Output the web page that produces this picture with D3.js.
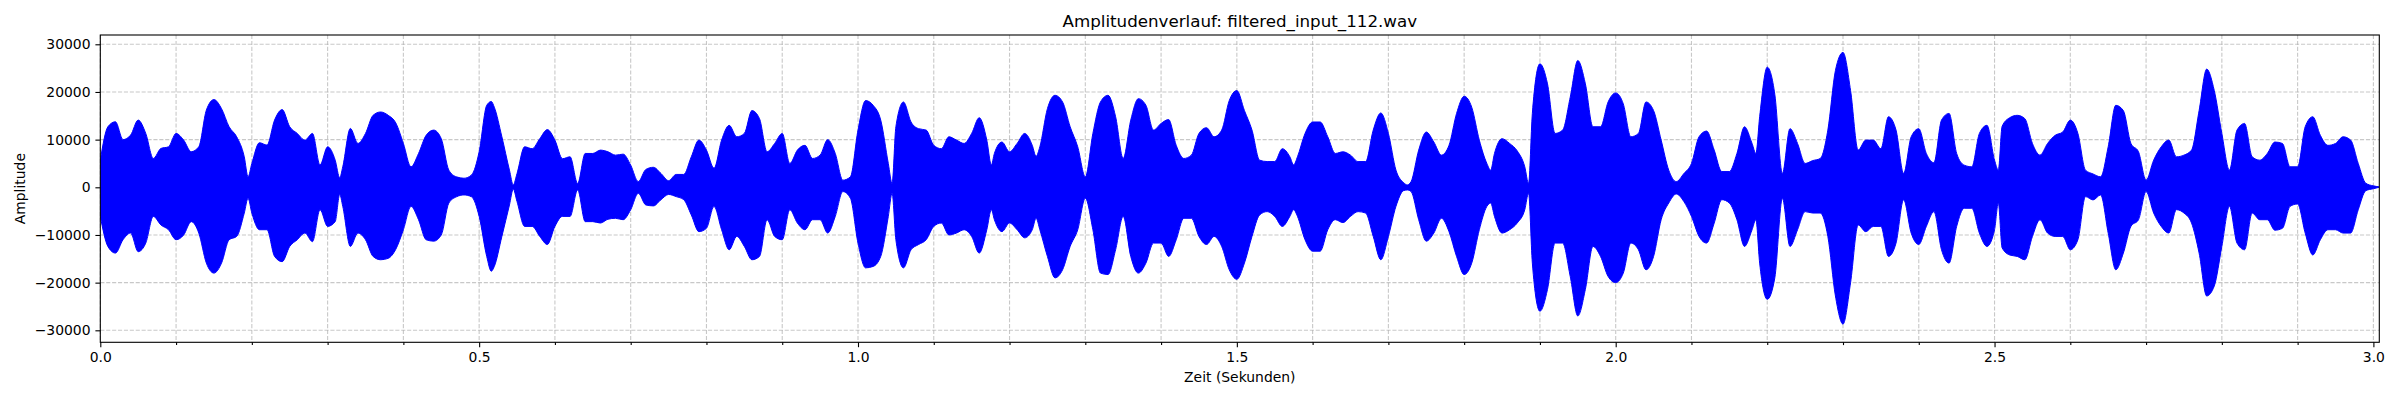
<!DOCTYPE html>
<html>
<head>
<meta charset="utf-8">
<script src="https://cdn.jsdelivr.net/npm/d3@7"></script>
<style>
  body { margin: 0; background: #fff; }
  text { font-family: "DejaVu Sans", sans-serif; fill: #000; }
</style>
</head>
<body>
<div id="chart"></div>
<script>
// Hüllkurve des Signals (Zeit in s, obere / untere Amplitude)
var timeSec = [
  0.000,0.010,0.020,0.030,0.040,0.050,0.060,0.070,0.080,0.090,
  0.100,0.110,0.120,0.130,0.140,0.150,0.160,0.170,0.180,0.190,0.195,
  0.200,0.210,0.220,0.230,0.240,0.250,0.260,0.270,0.280,0.290,
  0.300,0.310,0.316,0.320,0.330,0.340,0.350,0.360,0.370,0.380,0.390,
  0.400,0.410,0.420,0.430,0.440,0.450,0.460,0.470,0.480,0.490,
  0.500,0.510,0.516,0.520,0.530,0.540,0.545,0.550,0.560,0.570,0.580,0.590,
  0.600,0.610,0.620,0.630,0.640,0.650,0.660,0.670,0.680,0.690,
  0.700,0.710,0.720,0.730,0.740,0.750,0.760,0.770,0.780,0.790,
  0.800,0.810,0.820,0.830,0.840,0.850,0.860,0.870,0.880,0.890,
  0.900,0.910,0.920,0.930,0.940,0.950,0.960,0.970,0.980,0.990,
  1.000,1.010,1.020,1.030,1.040,1.045,1.050,1.060,1.070,1.080,1.090,
  1.100,1.110,1.120,1.130,1.140,1.150,1.160,1.170,1.176,1.180,1.190,
  1.200,1.210,1.220,1.230,1.235,1.240,1.250,1.260,1.270,1.280,1.290,
  1.300,1.310,1.320,1.330,1.340,1.350,1.360,1.370,1.380,1.390,
  1.400,1.410,1.420,1.430,1.440,1.450,1.460,1.470,1.480,1.490,
  1.500,1.510,1.520,1.530,1.540,1.550,1.560,1.570,1.575,1.580,1.590,
  1.600,1.610,1.620,1.630,1.640,1.650,1.660,1.670,1.680,1.690,
  1.700,1.710,1.720,1.725,1.730,1.740,1.750,1.760,1.770,1.780,1.790,
  1.800,1.810,1.820,1.830,1.835,1.840,1.850,1.860,1.870,1.880,1.885,1.890,
  1.900,1.910,1.920,1.930,1.940,1.950,1.960,1.970,1.980,1.990,
  2.000,2.010,2.020,2.030,2.040,2.050,2.060,2.070,2.080,2.090,
  2.100,2.110,2.120,2.130,2.140,2.150,2.160,2.170,2.180,2.185,2.190,
  2.200,2.210,2.220,2.230,2.240,2.250,2.260,2.270,2.280,2.290,
  2.300,2.310,2.320,2.330,2.340,2.350,2.360,2.370,2.380,2.390,
  2.400,2.410,2.420,2.430,2.440,2.450,2.460,2.470,2.480,2.490,
  2.500,2.505,2.510,2.520,2.530,2.540,2.550,2.560,2.570,2.580,2.590,
  2.600,2.610,2.620,2.630,2.640,2.650,2.660,2.670,2.680,2.690,
  2.700,2.710,2.720,2.730,2.740,2.750,2.760,2.770,2.780,2.790,
  2.800,2.810,2.820,2.830,2.840,2.850,2.860,2.870,2.880,2.890,
  2.900,2.910,2.920,2.930,2.940,2.950,2.960,2.970,2.980,2.990,
  3.000,3.0075
];
var upperAmp = [
  5700,12700,13750,10000,10950,14100,11300,6050,8150,8500,
  11300,9900,7470,8500,16200,18400,16500,12700,10600,6400,2200,
  5000,9350,8860,14100,16300,12700,11300,9900,11300,4680,
  8500,5700,2000,4300,12350,9200,11300,15100,15800,15100,13500,
  9200,4300,7100,10900,12000,10200,3600,2200,1900,2600,
  7450,17200,18000,16800,10600,3600,500,2900,8500,8100,10200,12100,
  9900,6000,6400,800,7100,7100,7800,7450,6750,6960,
  4650,1200,3750,4200,2900,1400,2700,2700,6400,9900,
  7800,4000,9900,13000,10600,11300,16100,14400,7450,9200,
  11300,5000,7800,8800,6050,6750,10000,7100,1500,2200,
  12000,18200,17200,14100,5000,800,12700,17900,13700,12300,12000,
  8800,8100,10600,9900,9200,11300,14600,9900,4700,7100,9500,
  7450,9200,11300,8800,6500,8500,16500,19300,17900,12700,8500,
  2200,11300,17900,19300,14800,6050,14100,18600,17200,12000,
  13400,14200,8800,6050,6750,11300,12500,10600,12000,18200,
  20300,16100,12000,5700,5400,5400,8100,6400,4700,6400,11300,
  13700,13700,10600,7100,7450,6750,5400,5400,12000,15600,
  11300,3600,1000,500,1200,7800,11600,9500,6750,8800,15500,
  19100,16800,9900,5000,3600,7100,10200,9200,7650,4300,800,15500,
  25900,21700,11300,12000,18900,26600,21700,12700,12700,17900,
  19800,17500,10600,11300,17900,16100,9900,3600,1200,2900,
  5000,10600,11800,7800,3300,3300,7100,12700,9200,7100,14800,
  25200,19500,2900,12300,9200,5000,5600,6050,12000,24500,
  28300,20300,7800,9900,9900,8100,14800,12000,2900,10600,
  12300,7100,5150,14100,15500,7100,4650,4300,11300,13000,
  5700,3600,12800,14600,15100,14400,9200,6750,9200,10900,11600,
  14100,11300,3600,2800,2200,8500,17200,16100,9200,7450,
  1500,5700,8500,9900,6400,6750,7800,16100,24800,20300,
  11300,3600,12000,13400,6400,5700,7100,9500,9200,4300,
  4300,12700,14800,10900,8800,9200,10600,9900,5000,850,
  300,100
];
var lowerAmp = [
  -6100,-12400,-13800,-11000,-9600,-13500,-11700,-6100,-7900,-8900,
  -11000,-10000,-7200,-9600,-15900,-18000,-15900,-11000,-10300,-5400,-2300,
  -5400,-8900,-8900,-14500,-15600,-12400,-11000,-9600,-11400,-4700,
  -8200,-7200,-1500,-4000,-12400,-9600,-11000,-14500,-15200,-14900,-13000,
  -8900,-4000,-6800,-11000,-11300,-10000,-3300,-2000,-1600,-2000,
  -6100,-14500,-17600,-16600,-10300,-3700,-400,-3000,-8200,-8200,-10300,-12000,
  -8200,-6100,-6100,-550,-7200,-7200,-7500,-6700,-6500,-6800,
  -4700,-1250,-3700,-3900,-2600,-1500,-1950,-2600,-5800,-9300,
  -8600,-4000,-8900,-13100,-10300,-12400,-15200,-14500,-6800,-10300,
  -11000,-4700,-7500,-8900,-6800,-6800,-9600,-6100,-900,-2300,
  -11700,-16900,-16600,-14500,-6100,-1250,-11000,-16900,-13100,-12000,-11000,
  -8200,-7500,-10000,-9600,-8900,-10300,-13800,-8900,-4700,-6800,-9300,
  -7500,-8900,-10600,-8900,-6500,-8900,-14500,-19000,-17300,-12400,-8900,
  -2300,-8900,-18000,-18300,-13100,-6100,-14500,-18000,-15900,-11700,
  -11700,-14500,-11000,-6500,-6500,-10300,-12000,-10300,-12400,-17300,
  -19300,-15900,-10300,-5800,-5100,-6100,-8200,-6100,-4700,-6100,-11000,
  -13400,-13400,-8900,-6800,-7400,-6100,-5100,-5400,-10300,-15200,
  -10300,-4000,-700,-550,-900,-6800,-11300,-9600,-6500,-9300,-14500,
  -18300,-15900,-8900,-4000,-3300,-6100,-9600,-8900,-7500,-4700,-1250,-15900,
  -26000,-21400,-11700,-11700,-18700,-27000,-21400,-12400,-14500,-18700,
  -20000,-18000,-11700,-13100,-17300,-14500,-6800,-3300,-1400,-3000,
  -6100,-10300,-11700,-7500,-2600,-3300,-6800,-12400,-8900,-6800,-15900,
  -23500,-19000,-2300,-12400,-8900,-5100,-5400,-5400,-10300,-22800,
  -28700,-20000,-7900,-9300,-8200,-8200,-14500,-11700,-2600,-9600,
  -12000,-8200,-5100,-13100,-15900,-8200,-4400,-4400,-9600,-12400,
  -8900,-3300,-12700,-14200,-14500,-15200,-10300,-6800,-9600,-10300,-10300,
  -13100,-11000,-1950,-2650,-1600,-9600,-17300,-13800,-8200,-6800,
  -900,-5400,-8200,-9600,-4700,-5400,-7500,-13800,-22800,-20700,
  -12400,-4000,-11700,-13100,-5400,-6800,-6800,-9000,-8600,-4000,
  -3500,-9600,-14200,-11000,-8900,-8900,-9600,-9600,-4700,-700,
  -300,0
];

// Achsen-Ticks
var xMajorTicks = [0.0, 0.5, 1.0, 1.5, 2.0, 2.5, 3.0];
var xMinorTicks = [0.1,0.2,0.3,0.4,0.6,0.7,0.8,0.9,1.1,1.2,1.3,1.4,1.6,1.7,1.8,1.9,
                   2.1,2.2,2.3,2.4,2.6,2.7,2.8,2.9];
var yTicks = [-30000, -20000, -10000, 0, 10000, 20000, 30000];
var xLimits = [0, 3.0078];
var yLimits = [-32515, 31950];

var dataset = timeSec.map(function(t, i){
    return {t: t, hi: upperAmp[i], lo: lowerAmp[i]};
});

var svgWidth = 2400, svgHeight = 400;
var plotLeft = 100.3, plotRight = 2379.3, plotTop = 35, plotBottom = 342.3;

var svg = d3.select('#chart')
    .append('svg')
    .attr('width', svgWidth)
    .attr('height', svgHeight)

var xScale = d3.scaleLinear().domain(xLimits).range([plotLeft, plotRight])
var yScale = d3.scaleLinear().domain(yLimits).range([plotBottom, plotTop])

// Gitter (gestrichelt)
var grid = svg.append('g')
    .attr('stroke', '#b0b0b0')
    .attr('stroke-opacity', 0.7)
    .attr('stroke-width', 1.1)
    .attr('stroke-dasharray', '4.1,1.8')

grid.selectAll('line.vx')
    .data(xMajorTicks.concat(xMinorTicks))
    .enter().append('line')
    .attr('class', 'vx')
    .attr('x1', function(d){ return xScale(d); })
    .attr('x2', function(d){ return xScale(d); })
    .attr('y1', plotTop)
    .attr('y2', plotBottom)

grid.selectAll('line.hy')
    .data(yTicks)
    .enter().append('line')
    .attr('class', 'hy')
    .attr('x1', plotLeft)
    .attr('x2', plotRight)
    .attr('y1', function(d){ return yScale(d); })
    .attr('y2', function(d){ return yScale(d); })

// Signal
svg.append('clipPath').attr('id', 'clip')
    .append('rect')
    .attr('x', plotLeft).attr('y', plotTop)
    .attr('width', plotRight - plotLeft).attr('height', plotBottom - plotTop)

var area = d3.area()
    .curve(d3.curveMonotoneX)
    .x(function(d){ return xScale(d.t); })
    .y0(function(d){ return yScale(d.lo); })
    .y1(function(d){ return yScale(d.hi); })

svg.append('path')
    .datum(dataset)
    .attr('clip-path', 'url(#clip)')
    .attr('d', area)
    .attr('fill', '#0000ff')
    .attr('stroke', '#0000ff')
    .attr('stroke-width', 1)
    .attr('stroke-linejoin', 'round')

// Rahmen
svg.append('rect')
    .attr('x', plotLeft).attr('y', plotTop)
    .attr('width', plotRight - plotLeft).attr('height', plotBottom - plotTop)
    .attr('fill', 'none')
    .attr('stroke', '#000')
    .attr('stroke-width', 1.1)

// Achsen
let xAxis = d3.axisBottom(xScale)
    .tickValues(xMajorTicks)
    .tickFormat(d3.format('.1f'))
    .tickSize(4.9)
    .tickPadding(4.9)
    .tickSizeOuter(0)
let xMinor = d3.axisBottom(xScale)
    .tickValues(xMinorTicks)
    .tickFormat('')
    .tickSize(2.8)
    .tickSizeOuter(0)
let yAxis = d3.axisLeft(yScale)
    .tickValues(yTicks)
    .tickFormat(d3.format('d'))
    .tickSize(4.9)
    .tickPadding(4.9)
    .tickSizeOuter(0)

function styleAxis(g){
    g.attr('font-family', null).attr('font-size', null)
    g.select('.domain').remove()
    g.selectAll('line').attr('stroke', '#000').attr('stroke-width', 1.1)
    g.selectAll('text').style('font-size', '13.9px').attr('fill', '#000')
}

svg.append('g').attr('transform', 'translate(0,' + plotBottom + ')').call(xAxis).call(styleAxis)
svg.append('g').attr('transform', 'translate(0,' + plotBottom + ')').call(xMinor).call(styleAxis)
svg.append('g').attr('transform', 'translate(' + plotLeft + ',0)').call(yAxis).call(styleAxis)

// Beschriftungen
svg.append('text')
    .attr('x', (plotLeft + plotRight) / 2)
    .attr('y', 27)
    .attr('text-anchor', 'middle')
    .style('font-size', '16.7px')
    .text('Amplitudenverlauf: filtered_input_112.wav')

svg.append('text')
    .attr('x', (plotLeft + plotRight) / 2)
    .attr('y', 382)
    .attr('text-anchor', 'middle')
    .style('font-size', '13.9px')
    .text('Zeit (Sekunden)')

svg.append('text')
    .attr('transform', 'translate(25,' + ((plotTop + plotBottom) / 2) + ') rotate(-90)')
    .attr('text-anchor', 'middle')
    .style('font-size', '13.9px')
    .text('Amplitude')
</script>
</body>
</html>
